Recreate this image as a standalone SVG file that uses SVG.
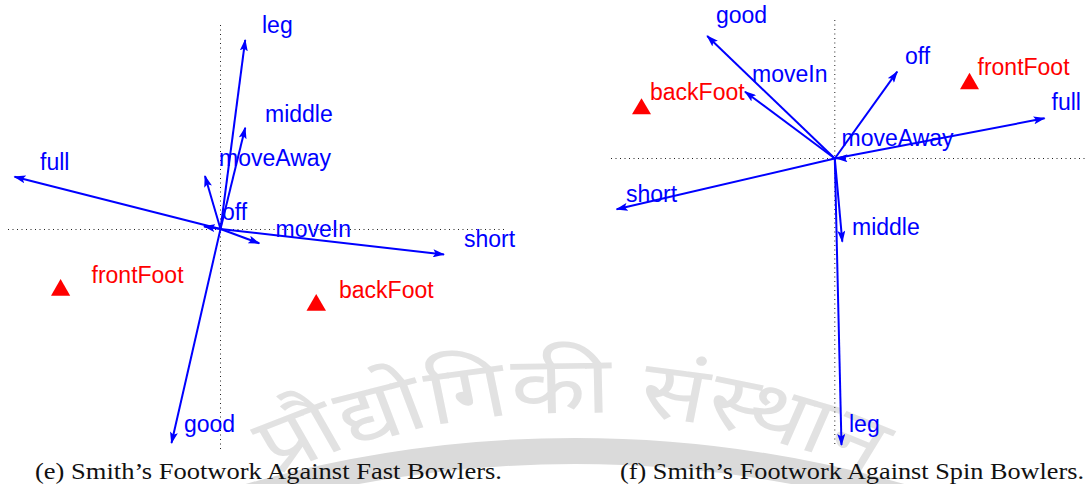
<svg xmlns="http://www.w3.org/2000/svg" width="1086" height="484" viewBox="0 0 1086 484">
<style>
.lbl{font-family:"Liberation Sans",Arial,Helvetica,sans-serif;font-size:23px;fill:#0000ff}
.red{font-family:"Liberation Sans",Arial,Helvetica,sans-serif;font-size:23px;fill:#ff0000}
.tri{fill:#ff0000}
.axis{stroke:#222;stroke-width:1;stroke-dasharray:1 3.5;fill:none}
.arr{stroke:#0000ff;stroke-width:2;fill:none;marker-end:url(#ah)}
.cap{font-family:"Liberation Serif","Times New Roman",serif;font-size:22.5px;fill:#111}
.wm{font-family:"Noto Sans","Noto Sans Devanagari",sans-serif;font-size:80px;fill:#e2e2e2}
</style>
<defs>
<marker id="ah" viewBox="0 0 12 8" refX="11" refY="4" markerWidth="12" markerHeight="8" markerUnits="userSpaceOnUse" orient="auto">
<path d="M0,0 L12,4 L0,8 L2.5,4 z" fill="#0000ff"/>
</marker>
<path id="wmArc" d="M 142 663 A 500 500 0 0 1 1008 663"/>
</defs>
<rect width="1086" height="484" fill="#ffffff"/>
<g id="watermark">
<path d="M -19.5 610.3 A 1189 1189 0 0 1 1169.5 610.3" fill="none" stroke="#dadada" stroke-width="26"/>
<g transform="translate(572,0) scale(1.22,1) translate(-575,0)">
<text class="wm"><textPath href="#wmArc" startOffset="50%" text-anchor="middle">प्रौद्योगिकी संस्थान</textPath></text>
</g>
</g>
<g id="axes">
<line class="axis" x1="220.5" y1="25" x2="220.5" y2="449"/>
<line class="axis" x1="8" y1="229.5" x2="506" y2="229.5"/>
<line class="axis" x1="834.8" y1="20" x2="834.8" y2="446"/>
<line class="axis" x1="611" y1="158.5" x2="1086" y2="158.5"/>
</g>
<g id="connectors">
<line class="arr" x1="220.5" y1="229" x2="245.2" y2="40"/>
<line class="arr" x1="220.5" y1="229" x2="245.2" y2="127.7"/>
<line class="arr" x1="220.5" y1="229" x2="205" y2="176"/>
<line class="arr" x1="220.5" y1="229" x2="14.5" y2="176.7"/>
<line class="arr" x1="220.5" y1="229" x2="204" y2="226.5"/>
<line class="arr" x1="220.5" y1="229" x2="259.3" y2="243.3"/>
<line class="arr" x1="220.5" y1="229" x2="444" y2="254.5"/>
<line class="arr" x1="220.5" y1="229" x2="171.5" y2="443"/>
<line class="arr" x1="834.8" y1="158.5" x2="707.2" y2="36"/>
<line class="arr" x1="834.8" y1="158.5" x2="745" y2="91.7"/>
<line class="arr" x1="834.8" y1="158.5" x2="897.2" y2="71.7"/>
<line class="arr" x1="834.8" y1="158.5" x2="1044.6" y2="118.3"/>
<line class="arr" x1="846" y1="158.3" x2="836.5" y2="158.3"/>
<line class="arr" x1="834.8" y1="158.5" x2="616.6" y2="209.3"/>
<line class="arr" x1="834.8" y1="158.5" x2="842.3" y2="241.7"/>
<line class="arr" x1="834.8" y1="158.5" x2="841.5" y2="445"/>
</g>
<g id="fast-leg"><text class="lbl" x="262" y="33">leg</text></g>
<g id="fast-middle"><text class="lbl" x="265" y="121.5">middle</text></g>
<g id="fast-moveAway"><text class="lbl" x="219" y="165.5">moveAway</text></g>
<g id="fast-full"><text class="lbl" x="40" y="170">full</text></g>
<g id="fast-off"><text class="lbl" x="222" y="220">off</text></g>
<g id="fast-moveIn"><text class="lbl" x="275.5" y="236.5">moveIn</text></g>
<g id="fast-short"><text class="lbl" x="464" y="247">short</text></g>
<g id="fast-good"><text class="lbl" x="184" y="432">good</text></g>
<g id="fast-frontFoot"><polygon class="tri" points="51,295.7 70.2,295.7 60.6,279"/><text class="red" x="91.5" y="282.5">frontFoot</text></g>
<g id="fast-backFoot"><polygon class="tri" points="306.5,310.7 326,310.7 316.2,294"/><text class="red" x="339" y="298">backFoot</text></g>
<g id="spin-good"><text class="lbl" x="716" y="22.5">good</text></g>
<g id="spin-moveIn"><text class="lbl" x="752" y="81.5">moveIn</text></g>
<g id="spin-backFoot"><polygon class="tri" points="632,114.3 651,114.3 641.5,98.3"/><text class="red" x="650" y="100">backFoot</text></g>
<g id="spin-off"><text class="lbl" x="905" y="64">off</text></g>
<g id="spin-frontFoot"><polygon class="tri" points="960,89.3 979,89.3 969.5,72.7"/><text class="red" x="977.5" y="75">frontFoot</text></g>
<g id="spin-full"><text class="lbl" x="1051.5" y="110">full</text></g>
<g id="spin-moveAway"><text class="lbl" x="841.5" y="145.5">moveAway</text></g>
<g id="spin-short"><text class="lbl" x="626" y="201.7">short</text></g>
<g id="spin-middle"><text class="lbl" x="852" y="234.5">middle</text></g>
<g id="spin-leg"><text class="lbl" x="849" y="432">leg</text></g>
<g id="captions">
<text class="cap" x="35" y="479" textLength="467" lengthAdjust="spacingAndGlyphs">(e) Smith’s Footwork Against Fast Bowlers.</text>
<text class="cap" x="620" y="479" textLength="464" lengthAdjust="spacingAndGlyphs">(f) Smith’s Footwork Against Spin Bowlers.</text>
</g>
</svg>
